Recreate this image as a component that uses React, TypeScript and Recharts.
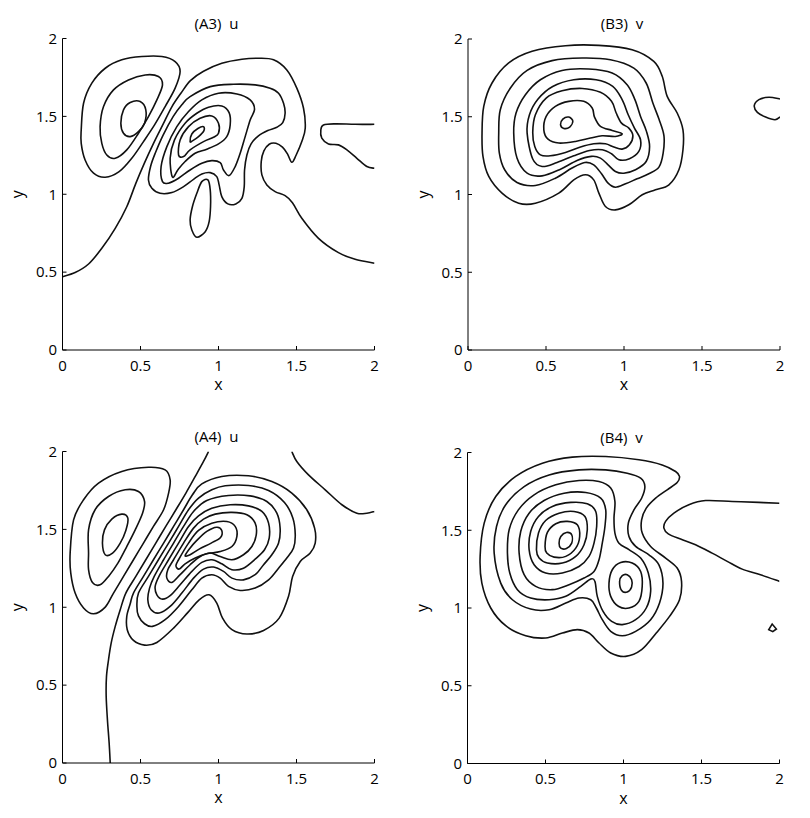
import React from 'react';
import { LineChart, Line, XAxis, YAxis } from 'recharts';

const FONT = '"Open Sans", "DejaVu Sans", sans-serif';
const xTicks = [0, 0.5, 1, 1.5, 2];
const yTicks = [0, 0.5, 1, 1.5, 2];

// ---------- (A3) u ----------
const a3Zero = [[0,0.471],[0.081,0.497],[0.167,0.552],[0.252,0.653],[0.338,0.781],[0.412,0.92],[0.47,1.07],[0.525,1.2],[0.585,1.33],[0.645,1.45],[0.7,1.56],[0.76,1.65],[0.82,1.73],[0.904,1.79],[1.021,1.841],[1.15,1.867],[1.256,1.873],[1.353,1.863],[1.438,1.798],[1.502,1.681],[1.545,1.552],[1.556,1.424],[1.534,1.338],[1.498,1.252],[1.47,1.205],[1.442,1.259],[1.41,1.302],[1.368,1.327],[1.325,1.321],[1.291,1.278],[1.274,1.21],[1.278,1.124],[1.31,1.06],[1.363,1.017],[1.427,0.991],[1.474,0.946],[1.534,0.846],[1.641,0.717],[1.769,0.625],[1.876,0.582],[2,0.557]];
const a3Edge = [[2,1.449],[1.876,1.449],[1.748,1.452],[1.673,1.445],[1.656,1.413],[1.662,1.36],[1.705,1.323],[1.769,1.317],[1.823,1.285],[1.887,1.231],[1.951,1.178],[2,1.167]];
const a3L1 = [[0.12,1.413],[0.135,1.584],[0.188,1.713],[0.274,1.809],[0.38,1.863],[0.509,1.884],[0.637,1.884],[0.722,1.852],[0.754,1.788],[0.722,1.681],[0.658,1.563],[0.59,1.445],[0.519,1.338],[0.444,1.231],[0.363,1.145],[0.274,1.109],[0.199,1.135],[0.145,1.22],[0.12,1.327]];
const a3L2 = [[0.241,1.434],[0.263,1.563],[0.327,1.67],[0.423,1.734],[0.53,1.766],[0.615,1.756],[0.641,1.702],[0.605,1.606],[0.551,1.499],[0.487,1.392],[0.412,1.285],[0.338,1.231],[0.284,1.252],[0.252,1.327]];
const a3L3 = [[0.374,1.456],[0.391,1.542],[0.434,1.589],[0.498,1.595],[0.534,1.542],[0.526,1.456],[0.487,1.402],[0.434,1.37],[0.391,1.392]];
const a3R5 = [[0.818,1.627],[0.947,1.691],[1.096,1.706],[1.235,1.702],[1.331,1.681],[1.385,1.649],[1.417,1.584],[1.427,1.52],[1.412,1.46],[1.374,1.43],[1.316,1.409],[1.256,1.375],[1.209,1.323],[1.182,1.252],[1.167,1.156],[1.165,1.049],[1.15,0.974],[1.111,0.938],[1.06,0.938],[1.021,0.985],[1.004,1.06],[0.989,1.113],[0.947,1.139],[0.893,1.13],[0.84,1.096],[0.776,1.049],[0.701,1.011],[0.626,1.006],[0.573,1.038],[0.551,1.092],[0.565,1.18],[0.595,1.265],[0.645,1.38],[0.71,1.5],[0.765,1.575]];
const a3R4 = [[0.641,1.081],[0.632,1.178],[0.669,1.306],[0.733,1.434],[0.808,1.531],[0.893,1.606],[1.0,1.649],[1.118,1.644],[1.203,1.606],[1.231,1.546],[1.203,1.477],[1.171,1.37],[1.139,1.263],[1.107,1.178],[1.068,1.12],[1.032,1.156],[1.011,1.203],[0.957,1.216],[0.893,1.199],[0.818,1.156],[0.744,1.103],[0.679,1.071]];
const a3R3 = [[0.705,1.11],[0.69,1.231],[0.718,1.349],[0.786,1.456],[0.861,1.52],[0.936,1.559],[1.021,1.567],[1.068,1.524],[1.075,1.445],[1.053,1.37],[1.0,1.323],[0.925,1.289],[0.85,1.263],[0.786,1.21],[0.739,1.156]];
const a3R2 = [[0.744,1.252],[0.754,1.349],[0.808,1.434],[0.882,1.488],[0.957,1.503],[1.0,1.456],[1.0,1.392],[0.968,1.366],[0.904,1.338],[0.818,1.285],[0.776,1.242]];
const a3R1 = [[0.818,1.338],[0.829,1.387],[0.868,1.422],[0.904,1.434],[0.906,1.407],[0.872,1.37],[0.833,1.343]];
const a3Drop = [[0.893,1.081],[0.932,1.092],[0.947,1.028],[0.949,0.921],[0.94,0.824],[0.915,0.76],[0.861,0.724],[0.829,0.771],[0.818,0.835],[0.833,0.921],[0.861,1.006]];

// ---------- (B3) v ----------
const b3R1 = [[0.09,1.395],[0.101,1.567],[0.154,1.717],[0.261,1.846],[0.411,1.921],[0.625,1.957],[0.838,1.959],[1.052,1.931],[1.191,1.856],[1.245,1.76],[1.277,1.631],[1.341,1.524],[1.378,1.416],[1.378,1.288],[1.352,1.159],[1.288,1.062],[1.202,1.03],[1.117,0.998],[1.031,0.934],[0.945,0.901],[0.881,0.923],[0.839,1.009],[0.806,1.094],[0.753,1.127],[0.678,1.094],[0.582,1.009],[0.432,0.944],[0.325,0.944],[0.218,1.009],[0.133,1.116],[0.096,1.245]];
const b3R2 = [[0.197,1.395],[0.207,1.545],[0.272,1.685],[0.379,1.798],[0.539,1.861],[0.732,1.878],[0.913,1.867],[1.063,1.813],[1.142,1.717],[1.185,1.588],[1.224,1.485],[1.256,1.378],[1.251,1.266],[1.224,1.176],[1.159,1.133],[1.084,1.101],[1.01,1.069],[0.945,1.047],[0.898,1.073],[0.856,1.133],[0.806,1.191],[0.749,1.206],[0.667,1.17],[0.56,1.105],[0.432,1.058],[0.314,1.077],[0.235,1.159],[0.201,1.266]];
const b3R3 = [[0.293,1.395],[0.308,1.524],[0.368,1.642],[0.464,1.738],[0.603,1.798],[0.774,1.807],[0.924,1.781],[1.02,1.706],[1.07,1.61],[1.106,1.502],[1.144,1.406],[1.164,1.309],[1.142,1.212],[1.074,1.159],[0.999,1.137],[0.945,1.148],[0.898,1.191],[0.849,1.234],[0.791,1.245],[0.699,1.219],[0.593,1.163],[0.475,1.12],[0.379,1.137],[0.314,1.234]];
const b3R4 = [[0.379,1.395],[0.394,1.513],[0.449,1.614],[0.543,1.695],[0.678,1.738],[0.821,1.738],[0.928,1.695],[0.988,1.61],[1.027,1.513],[1.067,1.427],[1.106,1.352],[1.095,1.277],[1.035,1.23],[0.967,1.223],[0.92,1.262],[0.86,1.288],[0.779,1.283],[0.678,1.249],[0.571,1.206],[0.475,1.18],[0.415,1.228]];
const b3R5 = [[0.415,1.399],[0.432,1.513],[0.501,1.62],[0.603,1.667],[0.732,1.682],[0.849,1.657],[0.92,1.599],[0.95,1.524],[0.984,1.459],[1.031,1.427],[1.057,1.378],[1.035,1.32],[0.988,1.292],[0.935,1.305],[0.881,1.326],[0.806,1.326],[0.721,1.305],[0.625,1.27],[0.528,1.249],[0.464,1.255],[0.428,1.309]];
const b3R6 = [[0.486,1.416],[0.501,1.502],[0.56,1.567],[0.646,1.599],[0.742,1.599],[0.796,1.556],[0.811,1.498],[0.849,1.438],[0.924,1.412],[0.988,1.391],[0.945,1.373],[0.86,1.378],[0.785,1.363],[0.689,1.341],[0.582,1.331],[0.513,1.356]];
const b3R7 = [[0.593,1.449],[0.608,1.485],[0.646,1.498],[0.672,1.472],[0.652,1.434],[0.614,1.425]];
const b3Edge = [[2,1.614],[1.929,1.625],[1.865,1.61],[1.835,1.571],[1.855,1.528],[1.908,1.498],[1.968,1.481],[2,1.498]];

// ---------- (A4) u ----------
const a4Zero = [[0.306,0],[0.299,0.128],[0.288,0.278],[0.28,0.428],[0.282,0.556],[0.295,0.663],[0.312,0.77],[0.338,0.877],[0.37,0.984],[0.406,1.091],[0.47,1.198],[0.534,1.305],[0.598,1.412],[0.662,1.519],[0.727,1.626],[0.791,1.733],[0.851,1.84],[0.904,1.936],[0.936,2]];
const a4Corner = [[1.47,2],[1.502,1.936],[1.577,1.85],[1.684,1.754],[1.791,1.658],[1.887,1.604],[1.951,1.604],[2,1.615]];
const a4L1 = [[0.049,1.348],[0.071,1.561],[0.135,1.69],[0.231,1.797],[0.38,1.872],[0.551,1.899],[0.658,1.882],[0.69,1.818],[0.68,1.733],[0.648,1.626],[0.583,1.519],[0.519,1.412],[0.455,1.305],[0.391,1.198],[0.327,1.091],[0.274,1.001],[0.199,0.958],[0.135,0.995],[0.081,1.091],[0.053,1.219]];
const a4L2 = [[0.167,1.348],[0.167,1.497],[0.209,1.626],[0.295,1.711],[0.402,1.754],[0.487,1.743],[0.526,1.679],[0.513,1.604],[0.466,1.497],[0.412,1.39],[0.355,1.283],[0.295,1.198],[0.241,1.144],[0.192,1.159],[0.167,1.241]];
const a4L3 = [[0.256,1.412],[0.269,1.497],[0.316,1.566],[0.38,1.598],[0.419,1.572],[0.406,1.493],[0.37,1.412],[0.321,1.348],[0.274,1.337]];
const a4R1 = [[0.893,1.792],[1.021,1.84],[1.192,1.844],[1.342,1.807],[1.47,1.733],[1.566,1.626],[1.616,1.508],[1.62,1.412],[1.588,1.348],[1.524,1.294],[1.475,1.198],[1.449,1.07],[1.389,0.93],[1.289,0.851],[1.182,0.828],[1.086,0.856],[1.026,0.93],[0.989,1.027],[0.94,1.08],[0.876,1.048],[0.804,0.967],[0.712,0.866],[0.605,0.774],[0.526,0.757],[0.455,0.787],[0.415,0.856],[0.412,0.941],[0.434,1.022],[0.455,1.091],[0.519,1.198],[0.583,1.305],[0.648,1.412],[0.712,1.519],[0.776,1.626],[0.833,1.722]];
const a4R2 = [[0.957,1.754],[1.043,1.78],[1.192,1.782],[1.321,1.75],[1.423,1.673],[1.477,1.572],[1.492,1.465],[1.481,1.38],[1.438,1.316],[1.385,1.251],[1.321,1.176],[1.235,1.123],[1.139,1.108],[1.064,1.134],[1.011,1.187],[0.957,1.209],[0.893,1.187],[0.829,1.112],[0.744,1.005],[0.658,0.92],[0.577,0.877],[0.526,0.894],[0.487,0.945],[0.477,1.005],[0.487,1.091],[0.551,1.198],[0.615,1.305],[0.68,1.412],[0.744,1.519],[0.808,1.626],[0.872,1.701]];
const a4R3 = [[0.925,1.686],[1.064,1.718],[1.203,1.715],[1.31,1.679],[1.374,1.604],[1.395,1.508],[1.385,1.412],[1.342,1.337],[1.289,1.273],[1.235,1.209],[1.16,1.176],[1.086,1.187],[1.032,1.23],[0.968,1.258],[0.904,1.245],[0.84,1.187],[0.765,1.091],[0.69,1.005],[0.62,0.963],[0.568,0.984],[0.547,1.048],[0.558,1.123],[0.588,1.198],[0.648,1.305],[0.712,1.412],[0.776,1.519],[0.84,1.615]];
const a4R4 = [[0.957,1.636],[1.075,1.658],[1.192,1.651],[1.278,1.615],[1.321,1.54],[1.325,1.444],[1.295,1.369],[1.235,1.309],[1.16,1.251],[1.086,1.241],[1.021,1.279],[0.957,1.305],[0.893,1.288],[0.829,1.23],[0.754,1.144],[0.69,1.074],[0.641,1.052],[0.605,1.08],[0.594,1.134],[0.62,1.202],[0.68,1.305],[0.744,1.412],[0.808,1.519],[0.872,1.587]];
const a4R5 = [[0.979,1.598],[1.086,1.609],[1.182,1.594],[1.235,1.54],[1.242,1.465],[1.214,1.39],[1.16,1.337],[1.086,1.305],[1.011,1.326],[0.947,1.348],[0.883,1.326],[0.818,1.273],[0.754,1.209],[0.701,1.159],[0.669,1.187],[0.675,1.241],[0.712,1.305],[0.776,1.412],[0.84,1.508],[0.904,1.566]];
const a4R6 = [[0.957,1.54],[1.054,1.551],[1.107,1.519],[1.118,1.455],[1.086,1.39],[1.011,1.358],[0.925,1.343],[0.851,1.316],[0.786,1.279],[0.748,1.245],[0.727,1.266],[0.744,1.305],[0.808,1.412],[0.872,1.493]];
const a4R7 = [[0.786,1.33],[0.812,1.373],[0.861,1.429],[0.925,1.487],[0.989,1.514],[1.021,1.493],[1.013,1.448],[0.953,1.412],[0.876,1.373],[0.818,1.337]];

// ---------- (B4) v ----------
const b4R1 = [[0.081,1.332],[0.107,1.546],[0.181,1.717],[0.309,1.846],[0.48,1.931],[0.672,1.97],[0.886,1.974],[1.099,1.953],[1.248,1.92],[1.334,1.878],[1.359,1.846],[1.344,1.807],[1.28,1.76],[1.206,1.706],[1.146,1.642],[1.116,1.567],[1.12,1.482],[1.174,1.396],[1.27,1.321],[1.344,1.257],[1.372,1.171],[1.359,1.053],[1.295,0.946],[1.21,0.839],[1.116,0.732],[1.014,0.689],[0.918,0.711],[0.843,0.775],[0.779,0.839],[0.704,0.861],[0.608,0.839],[0.501,0.807],[0.373,0.822],[0.245,0.886],[0.149,1.0],[0.092,1.16]];
const b4R2 = [[0.171,1.353],[0.186,1.524],[0.245,1.664],[0.363,1.781],[0.523,1.856],[0.715,1.888],[0.886,1.888],[1.024,1.867],[1.11,1.835],[1.137,1.781],[1.116,1.706],[1.067,1.631],[1.031,1.546],[1.035,1.46],[1.078,1.396],[1.163,1.342],[1.227,1.278],[1.253,1.16],[1.231,1.032],[1.174,0.925],[1.078,0.85],[0.992,0.822],[0.918,0.85],[0.864,0.925],[0.826,1.0],[0.79,1.053],[0.715,1.064],[0.63,1.032],[0.523,0.989],[0.405,0.993],[0.288,1.053],[0.213,1.16]];
const b4R3 = [[0.256,1.353],[0.267,1.503],[0.326,1.631],[0.427,1.728],[0.566,1.792],[0.715,1.82],[0.843,1.813],[0.918,1.771],[0.945,1.685],[0.939,1.578],[0.945,1.482],[0.971,1.417],[1.035,1.375],[1.11,1.321],[1.159,1.225],[1.174,1.107],[1.146,1.0],[1.078,0.925],[0.992,0.893],[0.924,0.914],[0.869,0.978],[0.832,1.075],[0.817,1.171],[0.79,1.186],[0.726,1.139],[0.63,1.075],[0.523,1.053],[0.405,1.064],[0.32,1.118],[0.271,1.225]];
const b4R4 = [[0.331,1.353],[0.341,1.492],[0.395,1.61],[0.491,1.691],[0.619,1.738],[0.758,1.743],[0.854,1.706],[0.886,1.631],[0.881,1.524],[0.864,1.417],[0.843,1.31],[0.811,1.235],[0.747,1.193],[0.651,1.15],[0.544,1.118],[0.437,1.139],[0.363,1.214]];
const b4R5 = [[0.395,1.375],[0.405,1.492],[0.455,1.589],[0.544,1.653],[0.662,1.679],[0.768,1.67],[0.822,1.621],[0.828,1.524],[0.811,1.417],[0.779,1.332],[0.715,1.267],[0.608,1.225],[0.501,1.225],[0.427,1.278]];
const b4R6 = [[0.442,1.375],[0.455,1.482],[0.501,1.563],[0.587,1.61],[0.683,1.621],[0.753,1.589],[0.768,1.503],[0.747,1.407],[0.694,1.332],[0.608,1.289],[0.512,1.289],[0.459,1.321]];
const b4R7 = [[0.497,1.396],[0.512,1.486],[0.566,1.542],[0.64,1.557],[0.704,1.535],[0.719,1.46],[0.694,1.385],[0.63,1.332],[0.555,1.327],[0.508,1.353]];
const b4R8 = [[0.587,1.417],[0.598,1.46],[0.634,1.486],[0.668,1.471],[0.668,1.417],[0.634,1.383],[0.598,1.385]];
const b4S2 = [[0.907,1.16],[0.928,1.246],[0.982,1.293],[1.056,1.289],[1.11,1.235],[1.12,1.139],[1.099,1.043],[1.035,1.0],[0.967,1.011],[0.918,1.075]];
const b4S1 = [[0.975,1.171],[0.992,1.208],[1.024,1.214],[1.052,1.182],[1.052,1.135],[1.024,1.103],[0.988,1.113]];
const b4Tongue = [[2,1.674],[1.867,1.679],[1.697,1.685],[1.526,1.691],[1.419,1.664],[1.323,1.61],[1.27,1.557],[1.259,1.514],[1.287,1.477],[1.366,1.443],[1.462,1.407],[1.568,1.353],[1.665,1.3],[1.761,1.25],[1.878,1.214],[2,1.171]];
const b4Speck = [[1.931,0.861],[1.953,0.897],[1.98,0.865],[1.957,0.848]];

// ---------- curves ----------
const makeCurve = (closed: boolean) => (context: any) => {
  let pts: number[][] = [];
  return {
    areaStart() {},
    areaEnd() {},
    lineStart() { pts = []; },
    point(x: number, y: number) { pts.push([+x, +y]); },
    lineEnd() {
      const n = pts.length;
      if (!n) return;
      context.moveTo(pts[0][0], pts[0][1]);
      if (n < 3) {
        for (let i = 1; i < n; i++) context.lineTo(pts[i][0], pts[i][1]);
        return;
      }
      const at = (i: number) => (closed ? pts[((i % n) + n) % n] : pts[Math.max(0, Math.min(n - 1, i))]);
      const segs = closed ? n : n - 1;
      for (let i = 0; i < segs; i++) {
        const p0 = at(i - 1), p1 = at(i), p2 = at(i + 1), p3 = at(i + 2);
        context.bezierCurveTo(
          p1[0] + (p2[0] - p0[0]) / 6, p1[1] + (p2[1] - p0[1]) / 6,
          p2[0] - (p3[0] - p1[0]) / 6, p2[1] - (p3[1] - p1[1]) / 6,
          p2[0], p2[1]
        );
      }
      if (closed) context.closePath();
    },
  };
};
const closedCurve = makeCurve(true);
const openCurve = makeCurve(false);

type C = { pts: number[][]; kind: 'closed' | 'open' | 'poly' };
const rows = (pts: number[][]) => pts.map(([x, y]) => ({ x, y }));

const panels: { left: number; top: number; pl: number; pr: number; pt: number; pb: number; contours: C[] }[] = [
  { left: 0, top: 0, pl: 62.5, pr: 374.5, pt: 38.5, pb: 350, contours: [
    { pts: a3Zero, kind: 'open' }, { pts: a3Edge, kind: 'open' },
    { pts: a3L1, kind: 'closed' }, { pts: a3L2, kind: 'closed' }, { pts: a3L3, kind: 'closed' },
    { pts: a3R5, kind: 'closed' }, { pts: a3R4, kind: 'closed' }, { pts: a3R3, kind: 'closed' },
    { pts: a3R2, kind: 'closed' }, { pts: a3R1, kind: 'closed' }, { pts: a3Drop, kind: 'closed' },
  ] },
  { left: 405, top: 0, pl: 63, pr: 375, pt: 39, pb: 350, contours: [
    { pts: b3R1, kind: 'closed' }, { pts: b3R2, kind: 'closed' }, { pts: b3R3, kind: 'closed' },
    { pts: b3R4, kind: 'closed' }, { pts: b3R5, kind: 'closed' }, { pts: b3R6, kind: 'closed' },
    { pts: b3R7, kind: 'closed' }, { pts: b3Edge, kind: 'open' },
  ] },
  { left: 0, top: 413, pl: 62.5, pr: 374.5, pt: 38.5, pb: 350, contours: [
    { pts: a4Zero, kind: 'open' }, { pts: a4Corner, kind: 'open' },
    { pts: a4L1, kind: 'closed' }, { pts: a4L2, kind: 'closed' }, { pts: a4L3, kind: 'closed' },
    { pts: a4R1, kind: 'closed' }, { pts: a4R2, kind: 'closed' }, { pts: a4R3, kind: 'closed' },
    { pts: a4R4, kind: 'closed' }, { pts: a4R5, kind: 'closed' }, { pts: a4R6, kind: 'closed' },
    { pts: a4R7, kind: 'closed' },
  ] },
  { left: 405, top: 413, pl: 62.5, pr: 374.5, pt: 39.5, pb: 350.5, contours: [
    { pts: b4R1, kind: 'closed' }, { pts: b4R2, kind: 'closed' }, { pts: b4R3, kind: 'closed' },
    { pts: b4R4, kind: 'closed' }, { pts: b4R5, kind: 'closed' }, { pts: b4R6, kind: 'closed' },
    { pts: b4R7, kind: 'closed' }, { pts: b4R8, kind: 'closed' }, { pts: b4S2, kind: 'closed' },
    { pts: b4S1, kind: 'closed' }, { pts: b4Tongue, kind: 'open' }, { pts: b4Speck, kind: 'poly' },
  ] },
];

const titles = ['(A3)  u', '(B3)  v', '(A4)  u', '(B4)  v'];

const W = 405;
const H = 409;
const tickStyle = { fill: '#000', fontSize: 15, fontFamily: FONT };

function Panel({ p, title }: { p: (typeof panels)[number]; title: string }) {
  const cx = (p.pl + p.pr) / 2;
  const cy = (p.pt + p.pb) / 2;
  return (
    <div style={{ position: 'absolute', left: p.left, top: p.top, width: W, height: H }}>
      <LineChart width={W} height={H} margin={{ top: p.pt, right: W - p.pr, bottom: 0, left: 0 }}>
        <XAxis xAxisId="b" type="number" dataKey="x" domain={[0, 2]} ticks={xTicks} interval={0}
          allowDataOverflow height={H - p.pb} tickSize={-4} tickMargin={14} stroke="#000" tick={tickStyle} />
        <XAxis xAxisId="t" orientation="top" type="number" dataKey="x" domain={[0, 2]} ticks={xTicks} interval={0}
          allowDataOverflow height={0} tickSize={-4} tick={false} stroke="#000" />
        <YAxis yAxisId="l" type="number" dataKey="y" domain={[0, 2]} ticks={yTicks} interval={0}
          allowDataOverflow width={p.pl} tickSize={-4} tickMargin={9.5} stroke="#000" tick={tickStyle} />
        <YAxis yAxisId="r" orientation="right" type="number" dataKey="y" domain={[0, 2]} ticks={yTicks} interval={0}
          allowDataOverflow width={0} tickSize={-4} tick={false} stroke="#000" />
        {p.contours.map((c, i) => (
          <Line key={i} xAxisId="b" yAxisId="l" data={rows(c.pts)} dataKey="y"
            type={c.kind === 'closed' ? closedCurve : c.kind === 'open' ? openCurve : 'linearClosed'}
            stroke="#111" strokeWidth={1.6} dot={false} activeDot={false} isAnimationActive={false} />
        ))}
      </LineChart>
      <svg width={W} height={H} style={{ position: 'absolute', left: 0, top: 0, pointerEvents: 'none' }}>
        <text x={cx - 2} y={28.7 + (p.pt - 38.5)} textAnchor="middle" fontFamily={FONT} fontSize={15} fill="#000" style={{ whiteSpace: 'pre' }}>{title}</text>
        <text x={cx} y={p.pb + 40} textAnchor="middle" fontFamily={FONT} fontSize={16} fill="#000">x</text>
        <text x={p.pl - 39.5} y={cy} textAnchor="middle" fontFamily={FONT} fontSize={16} fill="#000"
          transform={`rotate(-90 ${p.pl - 39.5} ${cy})`}>y</text>
      </svg>
    </div>
  );
}

export default function App() {
  return (
    <div style={{ position: 'absolute', left: 0, top: 0, width: 810, height: 818, background: '#fff' }}>
      {panels.map((p, i) => (
        <Panel key={i} p={p} title={titles[i]} />
      ))}
    </div>
  );
}
